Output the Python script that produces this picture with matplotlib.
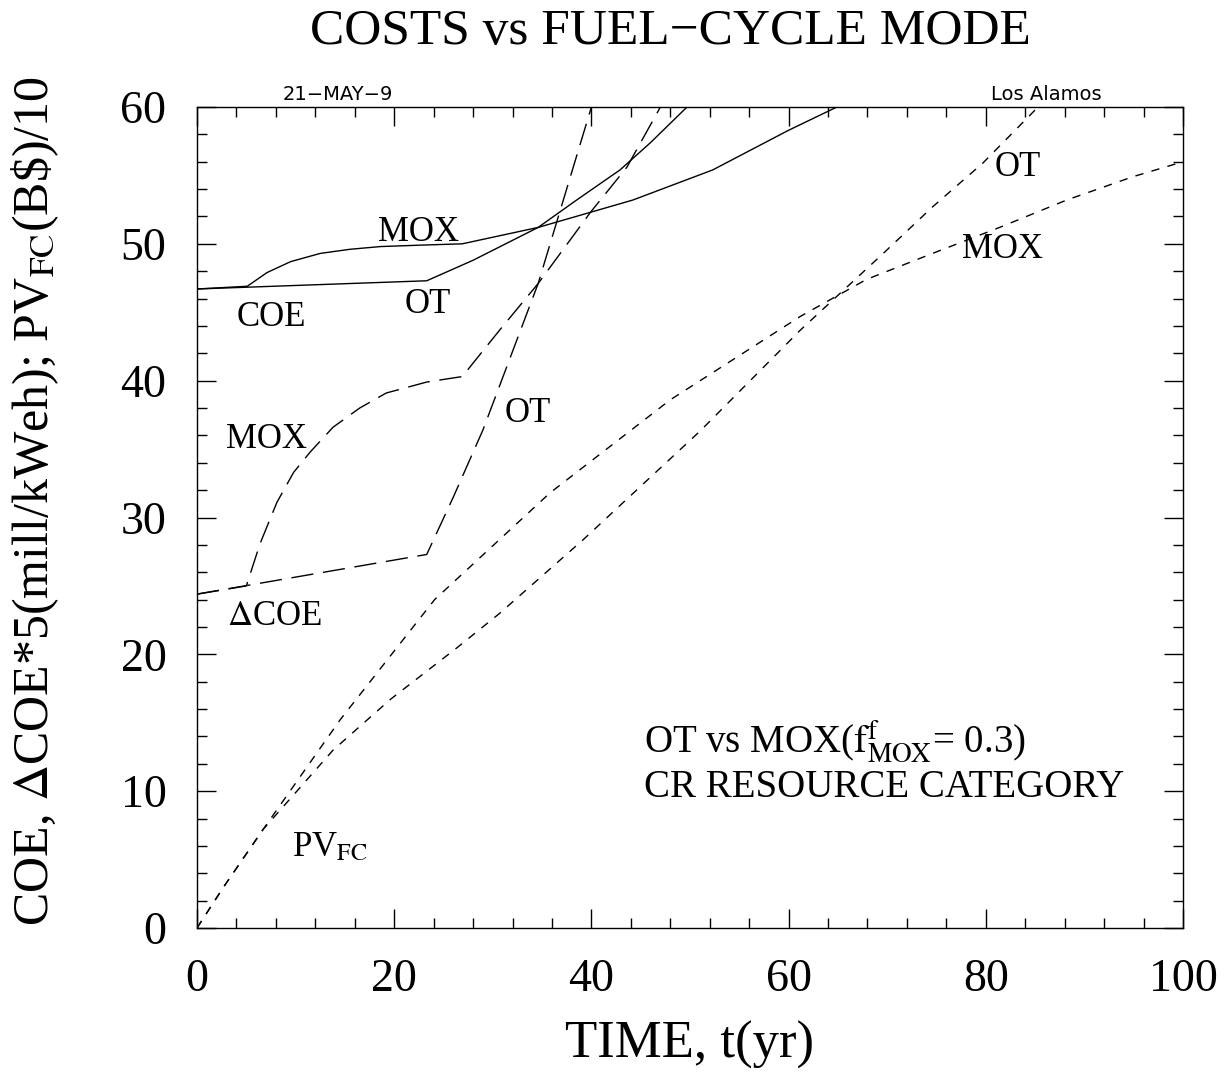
import numpy as np
import matplotlib
matplotlib.use("Agg")
import matplotlib.pyplot as plt
from matplotlib.ticker import MultipleLocator

plt.rcParams["font.family"] = ["Liberation Serif", "DejaVu Serif"]
plt.rcParams["mathtext.fontset"] = "stix"
plt.rcParams["lines.scale_dashes"] = False

# ── data ─────────────────────────────────────────────────────────
# COE (solid)
coe_ot_t  = [0, 23.3, 28.0, 34.6, 38.5, 42.9, 46.0, 49.7]
coe_ot    = [46.7, 47.3, 48.8, 51.2, 53.2, 55.4, 57.4, 60.0]
coe_mox_t = [0, 5.1, 7.1, 9.5, 12.5, 15.5, 18.6, 22.5, 26.9, 34.6, 44.2, 52.3, 60.0, 64.9]
coe_mox   = [46.7, 46.9, 47.9, 48.7, 49.3, 49.6, 49.8, 49.9, 50.0, 51.2, 53.2, 55.4, 58.3, 60.0]
# delta COE * 5 (long dash)
dcoe_ot_t  = [0, 23.3, 26.0, 29.0, 34.6, 40.0]
dcoe_ot    = [24.4, 27.3, 31.5, 36.4, 47.1, 60.0]
dcoe_mox_t = [0, 5.0, 6.4, 8.1, 9.8, 11.5, 13.8, 16.5, 19.2, 23.3, 26.9, 30.7, 34.6, 39.9, 43.6, 47.0]
dcoe_mox   = [24.4, 25.0, 28.1, 31.1, 33.3, 34.8, 36.6, 38.0, 39.1, 39.9, 40.3, 43.7, 47.1, 52.3, 55.6, 60.0]
# PV_FC / 10 (short dash)
pv_ot_t  = [0, 2.7, 6.7, 13.8, 19.6, 26.4, 30.7, 39.2, 51.0, 61.2, 64.5, 69.6, 74.6, 79.7, 85.3]
pv_ot    = [0, 3.0, 7.2, 13.0, 16.7, 20.5, 23.0, 28.4, 36.3, 43.7, 45.9, 49.3, 52.7, 55.9, 60.0]
pv_mox_t = [0, 2.7, 6.7, 14.5, 24.1, 35.8, 48.0, 61.2, 67.9, 74.6, 81.4, 88.2, 94.9, 100]
pv_mox   = [0, 3.0, 7.2, 15.2, 24.0, 31.8, 38.6, 44.7, 47.4, 49.3, 51.2, 53.2, 54.9, 56.0]

LONG = (0, (16, 7))
SHORT = (0, (6, 6))

fig = plt.figure(figsize=(12.25, 10.74), dpi=100)
ax = fig.add_axes([197/1225, 1-928/1074, 986/1225, 821/1074])

kw = dict(color="black", lw=1.0)
ax.plot(coe_ot_t, coe_ot, ls="-", **kw)
ax.plot(coe_mox_t, coe_mox, ls="-", **kw)
ax.plot(dcoe_ot_t, dcoe_ot, ls=LONG, **kw)
ax.plot(dcoe_mox_t, dcoe_mox, ls=LONG, **kw)
ax.plot(pv_ot_t, pv_ot, ls=SHORT, **kw)
ax.plot(pv_mox_t, pv_mox, ls=SHORT, **kw)

ax.set_xlim(0, 100); ax.set_ylim(0, 60)
ax.xaxis.set_major_locator(MultipleLocator(20))
ax.xaxis.set_minor_locator(MultipleLocator(4))
ax.yaxis.set_major_locator(MultipleLocator(10))
ax.yaxis.set_minor_locator(MultipleLocator(2))
ax.tick_params(which="both", direction="in", top=True, right=True, width=1.0)
ax.tick_params(which="major", length=14)
ax.tick_params(which="minor", length=7)
ax.tick_params(axis="x", which="major", labelsize=33, pad=22)
ax.tick_params(axis="y", which="major", labelsize=33, pad=22)
for s in ax.spines.values():
    s.set_linewidth(1.0)

ax.set_xlabel("TIME, t(yr)", fontsize=38)
ax.xaxis.set_label_coords(0.5, -0.1425)
ax.xaxis.label.set_va("center")
ax.set_ylabel(r"COE, $\Delta$COE*5(mill/kWeh); PV$_{\mathrm{FC}}$(B\$)/10", fontsize=36)
ax.yaxis.set_label_coords(-0.164, 0.52)
ax.yaxis.label.set_va("center")

fig.text(0.547, 0.970, "COSTS vs FUEL\u2212CYCLE MODE", fontsize=37,
         ha="center", va="center")
fig.text(283/1225, 1-100/1074, "21\u2212MAY\u22129", fontsize=14,
         family="DejaVu Sans", ha="left", va="baseline")
fig.text(1102/1225, 1-100/1074, "Los Alamos", fontsize=14,
         family="DejaVu Sans", ha="right", va="baseline")

# curve labels
lab = dict(fontsize=25, ha="center", va="center")
ax.text(22.5, 50.8, "MOX", **lab)
ax.text(7.5, 44.6, "COE", **lab)
ax.text(23.4, 45.6, "OT", **lab)
ax.text(7.0, 35.7, "MOX", **lab)
ax.text(33.5, 37.6, "OT", **lab)
ax.text(7.9, 22.8, r"$\Delta$COE", **lab)
ax.text(13.5, 5.9, r"PV$_{\mathrm{FC}}$", **lab)
ax.text(83.2, 55.6, "OT", **lab)
ax.text(81.7, 49.6, "MOX", **lab)
ax.text(45.3, 13.6, r"OT vs MOX($\mathrm{f}^{\mathrm{f}}_{\mathrm{MOX}}$= 0.3)",
        fontsize=28, ha="left", va="center")
ax.text(45.3, 10.3, "CR RESOURCE CATEGORY", fontsize=28, ha="left", va="center")

fig.savefig("out.png", dpi=100)
